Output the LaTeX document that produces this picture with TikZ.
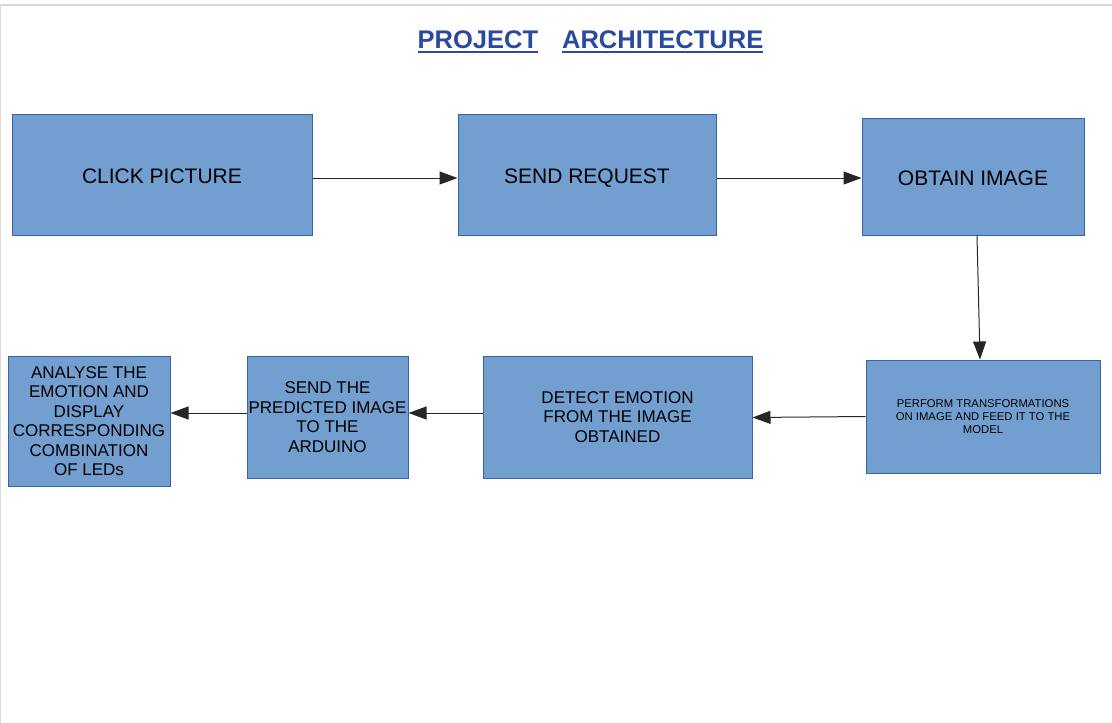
\documentclass[tikz,border=0pt]{standalone}
\usepackage{fontspec}
\setmainfont{Liberation Sans}
\usetikzlibrary{arrows.meta}
\definecolor{boxblue}{HTML}{729FCF}
\definecolor{boxedge}{HTML}{3465A4}
\definecolor{titleblue}{HTML}{2A4AA0}
\definecolor{pageedge}{gray}{0.85}
\newcommand\ulword[1]{\setbox0\hbox{#1}\rlap{\rule[-5pt]{\wd0}{2pt}}\box0}

\begin{document}
\begin{tikzpicture}[
  x=1pt, y=-1pt,
  stage/.style={draw=boxedge, fill=boxblue, line width=1pt, align=center,
                inner sep=2pt, font=\fontsize{17}{19.5}\selectfont},
  bigstage/.style={stage, font=\fontsize{21}{24}\selectfont,
                   text height=18pt, text depth=0pt},
  tinystage/.style={stage, font=\fontsize{11.3}{13}\selectfont},
  arr/.style={-{Triangle[length=18pt, width=13pt]}, line width=1pt, black!85},
]
\useasboundingbox (0,0) rectangle (1112,723);
% page edge
\draw[pageedge, line width=1.5pt] (0,723) -- (0,5) -- (1112,5);
% Title
\node[font=\fontsize{25.5}{30}\selectfont\bfseries, text=titleblue] (title) at (590.5,42)
  {\ulword{PROJECT}\hspace{24pt}\ulword{ARCHITECTURE}};
% Top row
\node[bigstage, minimum width=300pt, minimum height=121pt] (click) at (162,174.5) {CLICK PICTURE};
\node[bigstage, minimum width=258pt, minimum height=121pt] (request) at (587,174.5) {SEND REQUEST};
\node[bigstage, minimum width=222pt, minimum height=117pt] (obtain) at (973,176.5) {OBTAIN IMAGE};
% Bottom row
\node[tinystage, minimum width=234pt, minimum height=113pt] (transform) at (983,416.5) {
  PERFORM TRANSFORMATIONS\\
  ON IMAGE AND FEED IT TO THE\\
  MODEL
};
\node[stage, minimum width=269pt, minimum height=122pt] (detect) at (617.5,417) {
  DETECT EMOTION\\
  FROM THE IMAGE\\
  OBTAINED
};
\node[stage, minimum width=161pt, minimum height=122pt, inner sep=0pt] (arduino) at (327.5,417) {
  SEND THE\\
  PREDICTED IMAGE\\
  TO THE\\
  ARDUINO
};
\node[stage, minimum width=162pt, minimum height=130pt] (leds) at (89,421) {
  ANALYSE THE\\
  EMOTION AND\\
  DISPLAY\\
  CORRESPONDING\\
  COMBINATION\\
  OF LEDs
};
% Arrows
\draw[arr] ([yshift=-3.5pt]click.east) -- ([yshift=-3.5pt]request.west);
\draw[arr] ([yshift=-3.5pt]request.east) -- ([yshift=-1.5pt]obtain.west);
\draw[arr] ([xshift=4pt]obtain.south) -- ([xshift=-3pt]transform.north);
\draw[arr] (transform.west) -- ([yshift=-0.5pt]detect.east);
\draw[arr] ([yshift=4pt]detect.west) -- ([yshift=4pt]arduino.east);
\draw[arr] ([yshift=4pt]arduino.west) -- ([yshift=8pt]leds.east);
\end{tikzpicture}
\end{document}
